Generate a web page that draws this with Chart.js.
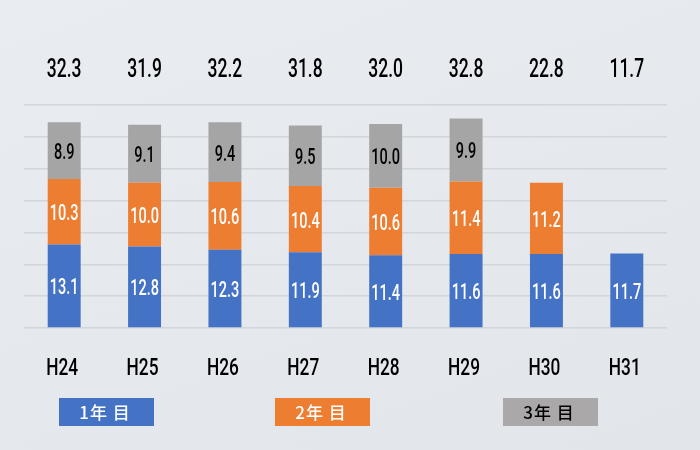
<!DOCTYPE html>
<html>
<head>
<meta charset="utf-8">
<script src="https://cdn.jsdelivr.net/npm/chart.js@4"></script>
<style>
  html, body { margin: 0; padding: 0; }
  body { width: 700px; height: 450px; background: linear-gradient(160deg, #e9ecf0, #e2e6eb); }
  #wrap { width: 700px; height: 450px; }
</style>
</head>
<body>
<div id="wrap"><canvas id="chart"></canvas></div>
<script>
const years = ["H24", "H25", "H26", "H27", "H28", "H29", "H30", "H31"];
const year1 = [13.1, 12.8, 12.3, 11.9, 11.4, 11.6, 11.6, 11.7];
const year2 = [10.3, 10.0, 10.6, 10.4, 10.6, 11.4, 11.2, null];
const year3 = [8.9, 9.1, 9.4, 9.5, 10.0, 9.9, null, null];
const totals = [32.3, 31.9, 32.2, 31.8, 32.0, 32.8, 22.8, 11.7];

const numFont = "Roboto, 'Liberation Sans', sans-serif";
const jpFont = "'Noto Sans CJK JP', sans-serif";

// the original uses a narrow DIN-like face, so squeeze the text horizontally
function narrowText(ctx, text, x, y, size, sx) {
  ctx.save();
  ctx.font = "500 " + size + "px " + numFont;
  ctx.translate(x, y);
  ctx.scale(sx, 1);
  ctx.fillText(text, 0, 0);
  ctx.restore();
}

const labelPlugin = {
  id: "labels",
  afterDatasetsDraw(chart) {
    const ctx = chart.ctx;
    const xs = chart.scales.x;
    ctx.save();
    ctx.textAlign = "center";
    ctx.textBaseline = "middle";

    // values inside the segments
    chart.data.datasets.forEach((ds, i) => {
      const meta = chart.getDatasetMeta(i);
      meta.data.forEach((bar, j) => {
        const v = ds.data[j];
        if (v == null) return;
        ctx.fillStyle = ds.labelColor;
        narrowText(ctx, v.toFixed(1), bar.x, (bar.y + bar.base) / 2 + 3, 22, 0.66);
      });
    });

    // totals and category names
    ctx.fillStyle = "#000";
    totals.forEach((t, j) => {
      narrowText(ctx, t.toFixed(1), xs.getPixelForValue(j), 71, 25, 0.7);
    });
    chart.data.labels.forEach((lab, j) => {
      narrowText(ctx, lab, xs.getPixelForValue(j) - 2, 369, 24, 0.72);
    });

    // legend boxes with the name inside
    const boxes = [59, 275, 503];
    ctx.font = "500 17px " + jpFont;
    chart.data.datasets.forEach((ds, i) => {
      const x = boxes[i];
      ctx.fillStyle = ds.legendColor || ds.backgroundColor;
      ctx.fillRect(x, 398, 95, 28);
      ctx.fillStyle = ds.labelColor;
      ctx.letterSpacing = "1px";
      ctx.fillText(ds.label, x + 46, 413);
    });
    ctx.restore();
  }
};

chart = new Chart(document.getElementById("chart"), {
  type: "bar",
  data: {
    labels: years,
    datasets: [
      { label: "1年 目", data: year1, backgroundColor: "#4472c4", labelColor: "#fff" },
      { label: "2年 目", data: year2, backgroundColor: "#ed7d31", labelColor: "#fff" },
      { label: "3年 目", data: year3, backgroundColor: "#a5a5a5", legendColor: "#aaa8a8", labelColor: "#000" }
    ]
  },
  options: {
    responsive: true,
    maintainAspectRatio: false,
    animation: false,
    layout: { padding: { top: 105, left: 24, right: 33, bottom: 114 } },
    datasets: { bar: { barPercentage: 0.41, categoryPercentage: 1 } },
    plugins: { legend: { display: false }, tooltip: { enabled: false } },
    scales: {
      x: {
        stacked: true,
        grid: { display: false },
        border: { display: false },
        ticks: { display: false }
      },
      y: {
        stacked: true,
        min: 0,
        max: 35,
        ticks: { display: false, stepSize: 5 },
        grid: { color: "#d2d5da", lineWidth: 1.5, drawTicks: false },
        border: { display: false }
      }
    }
  },
  plugins: [labelPlugin]
});
</script>
</body>
</html>
